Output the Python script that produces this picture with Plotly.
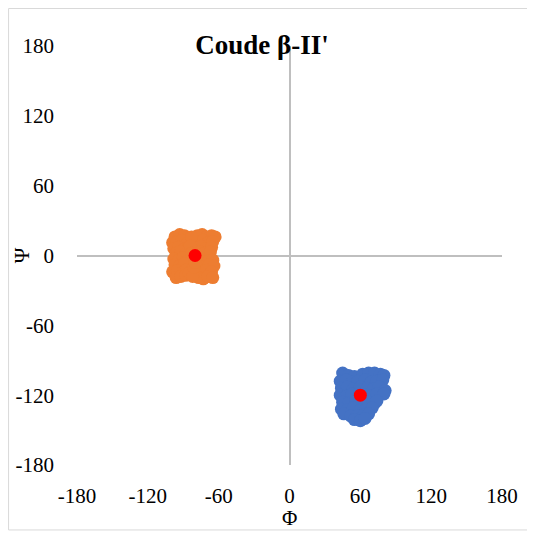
import plotly.graph_objects as go

# orange cluster (phi, psi)
orange_phi = [-97, -93, -89, -86, -99, -95, -91, -87, -98, -94, -90, -86, -96, -92, -88,
              -78, -74, -70, -66, -63, -77, -73, -69, -65, -79, -75, -71, -66, -76, -72, -67,
              -98, -94, -90, -87, -97, -93, -89, -99, -95, -91, -87, -96, -92, -88, -85,
              -78, -69, -65, -77, -73, -68, -64, -79, -75, -71, -66, -77, -73, -69, -65,
              -83, -82, -84, -81, -83, -80]
orange_psi = [16, 18, 17, 15, 11, 12, 13, 10, 6, 7, 5, 6, 2, 3, 1,
              17, 18, 16, 17, 16, 12, 13, 11, 12, 7, 8, 6, 7, 3, 2, 3,
              -3, -4, -2, -5, -8, -9, -7, -14, -13, -15, -12, -19, -18, -17, -15,
              -4, -5, -4, -9, -10, -8, -9, -14, -15, -13, -14, -19, -20, -18, -19,
              16, -18, 8, -10, 2, -6]

# blue cluster (phi, psi)
blue_phi = [45, 50, 55, 62, 67, 72, 77, 80,
            43, 48, 53, 58, 64, 69, 74, 79,
            44, 49, 54, 60, 66, 71, 76, 81,
            43, 48, 53, 58, 64, 69, 74, 80,
            45, 50, 56, 61, 67, 72, 74,
            44, 49, 54, 60, 65, 70,
            46, 52, 57, 63, 67,
            55, 60, 64]
blue_psi = [-101, -103, -104, -102, -101, -101, -102, -103,
            -108, -107, -109, -108, -107, -109, -108, -107,
            -114, -113, -115, -113, -114, -115, -113, -116,
            -120, -121, -119, -122, -120, -121, -119, -119,
            -126, -127, -125, -127, -126, -127, -125,
            -132, -133, -131, -133, -132, -131,
            -136, -138, -138, -137, -136,
            -141, -142, -140]

# mean positions
mean_phi = [-80, 60]
mean_psi = [0, -120]

ticks = [-180, -120, -60, 0, 60, 120, 180]
tick_labels = ["-180", "-120", "-60", "0", "60", "120", "180"]
font = "Liberation Serif"

fig = go.Figure()
fig.add_trace(go.Scatter(x=orange_phi, y=orange_psi, mode="markers",
                         marker=dict(color="#ED7D31", size=13), showlegend=False))
fig.add_trace(go.Scatter(x=blue_phi, y=blue_psi, mode="markers",
                         marker=dict(color="#4472C4", size=13), showlegend=False))
fig.add_trace(go.Scatter(x=mean_phi, y=mean_psi, mode="markers",
                         marker=dict(color="#FF0000", size=13), showlegend=False))

axis = dict(range=[-180, 180], tickvals=ticks, ticktext=tick_labels,
            showgrid=False, showline=False, automargin=False,
            zeroline=True, zerolinecolor="#BFBFBF", zerolinewidth=2,
            ticks="", tickfont=dict(family=font, size=21, color="black"))

# the page body has an 8px margin, so the figure is placed 8px in
fig.update_layout(
    width=535, height=533,
    margin=dict(l=69, r=41, t=38, b=76),
    paper_bgcolor="white", plot_bgcolor="white",
    title=dict(text="<b>Coude β-II'</b>", x=254 / 535, xanchor="center",
               y=1 - 37 / 533, yanchor="middle",
               font=dict(family=font, size=27, color="black")),
    xaxis=dict(axis, ticklabelstandoff=16),
    yaxis=dict(axis, ticklabelstandoff=22),
    annotations=[
        dict(text="Φ", xref="paper", yref="paper", x=0.5, y=-0.126,
             xanchor="center", yanchor="middle",
             showarrow=False, font=dict(family=font, size=21, color="black")),
        dict(text="Ψ", xref="paper", yref="paper", x=-0.13, y=0.5, textangle=-90,
             xanchor="center", yanchor="middle",
             showarrow=False, font=dict(family=font, size=21, color="black")),
    ],
    shapes=[dict(type="rect", xref="paper", yref="paper", x0=-0.161, x1=1.066,
                 y0=-0.155, y1=1.0895, line=dict(color="#D9D9D9", width=1))],
)

fig.write_html("out.html")
